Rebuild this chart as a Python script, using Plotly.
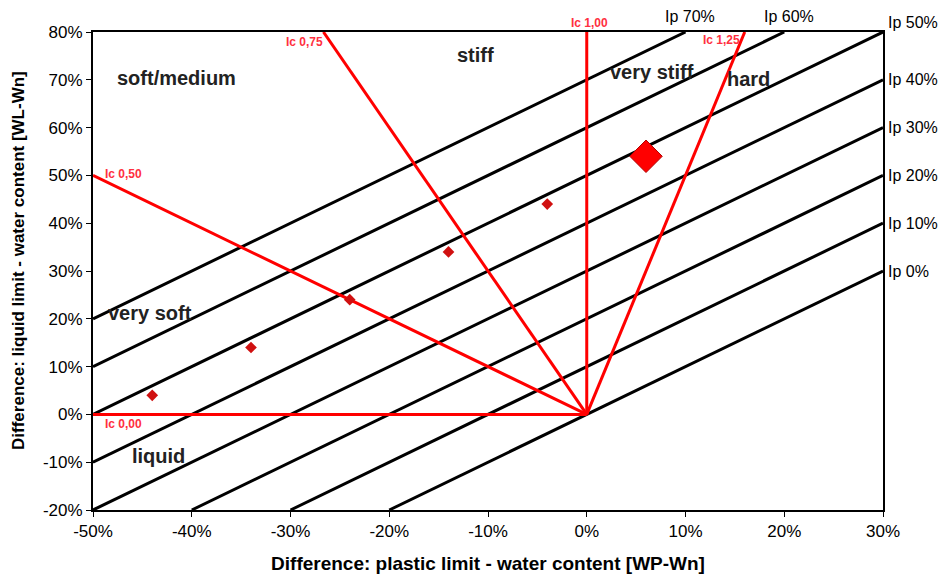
import plotly.graph_objects as go

# ---- data ----
ip_values = [0, 10, 20, 30, 40, 50, 60, 70]          # plasticity index lines (%)
ic_values = [0.0, 0.5, 0.75, 1.0, 1.25]               # consistency index lines
ic_labels = ["Ic 0,00", "Ic 0,50", "Ic 0,75", "Ic 1,00", "Ic 1,25"]
sample_x = [-44, -34, -24, -14, -4]                   # WP-Wn (%)
sample_y = [4, 14, 24, 34, 44]                        # WL-Wn (%)
main_x = [6]
main_y = [54]
region_names = ["soft/medium", "stiff", "very stiff", "hard", "very soft", "liquid"]
region_x = [-41.5, -11.3, 6.6, 16.4, -44.2, -43.4]
region_y = [70.4, 75.2, 71.6, 70.2, 21.2, -8.7]
x_ticks = [-50, -40, -30, -20, -10, 0, 10, 20, 30]
x_tick_text = ["-50%", "-40%", "-30%", "-20%", "-10%", "0%", "10%", "20%", "30%"]
y_ticks = [-20, -10, 0, 10, 20, 30, 40, 50, 60, 70, 80]
y_tick_text = ["-20%", "-10%", "0%", "10%", "20%", "30%", "40%", "50%", "60%", "70%", "80%"]

X_MIN, X_MAX, Y_MIN, Y_MAX = -50, 30, -20, 80


def px(x):
    return (x - X_MIN) / (X_MAX - X_MIN)


def py(y):
    return (y - Y_MIN) / (Y_MAX - Y_MIN)


fig = go.Figure()

# Ip lines: y = x + Ip, clipped to axes box
for ip in ip_values:
    x0 = max(X_MIN, Y_MIN - ip)
    x1 = min(X_MAX, Y_MAX - ip)
    fig.add_trace(go.Scatter(x=[x0, x1], y=[x0 + ip, x1 + ip], mode="lines",
                             line=dict(color="black", width=3), hoverinfo="skip"))

# Ic lines through origin: y = Ic*x/(Ic-1)
for ic in ic_values:
    if abs(ic - 1.0) < 1e-9:
        xe, ye = 0, Y_MAX
    else:
        slope = ic / (ic - 1)
        if ic < 1:
            xe = X_MIN
            ye = slope * xe
            if ye > Y_MAX:
                ye = Y_MAX
                xe = ye / slope
        else:
            ye = Y_MAX
            xe = ye / slope
    fig.add_trace(go.Scatter(x=[0, xe], y=[0, ye], mode="lines",
                             line=dict(color="#ff0000", width=3), hoverinfo="skip"))

# samples
fig.add_trace(go.Scatter(x=sample_x, y=sample_y, mode="markers",
                         marker=dict(symbol="diamond", size=9, color="#d01010")))
fig.add_trace(go.Scatter(x=main_x, y=main_y, mode="markers",
                         marker=dict(symbol="diamond", size=25, color="#ff0000",
                                     line=dict(color="#b00000", width=1))))

ann = []
# region labels
for name, rx, ry in zip(region_names, region_x, region_y):
    ann.append(dict(x=px(rx), y=py(ry), xref="paper", yref="paper", text=name, showarrow=False,
                    xanchor="center", yanchor="middle",
                    font=dict(size=20, color="#222222", family="Liberation Sans", weight="bold")))

# Ic labels
ic_pos = [(-49.0, -2.0, "left"), (-49.0, 50.3, "left"), (-26.5, 77.9, "right"),
          (0.3, 81.9, "center"), (15.7, 78.3, "right")]
for lab, (lx, ly, al) in zip(ic_labels, ic_pos):
    ann.append(dict(x=px(lx), y=py(ly), xref="paper", yref="paper", text=lab, showarrow=False,
                    xanchor=al, yanchor="middle",
                    font=dict(size=12, color="#ff3040", family="Liberation Sans", weight="bold")))

# Ip labels
for ip in ip_values:
    if ip + X_MAX <= Y_MAX:
        lx, ly, xa = 30.3, X_MAX + ip + (2.0 if ip == 50 else 0), "left"
    else:
        lx, ly, xa = Y_MAX - ip + 0.5, 83.3, "center"
    ann.append(dict(x=px(lx), y=py(ly), xref="paper", yref="paper", text=f"Ip {ip}%",
                    showarrow=False, xanchor=xa, yanchor="middle",
                    font=dict(size=16, color="black", family="Liberation Sans")))

# y-axis title as rotated text
ann.append(dict(x=0, xshift=-74, y=0.521, xref="paper", yref="paper",
                text="<b>Difference: liquid limit - water content [WL-Wn]</b>",
                textangle=-90, showarrow=False, xanchor="center", yanchor="middle",
                font=dict(size=17, color="black", family="Liberation Sans")))

fig.update_layout(
    width=938, height=574,
    margin=dict(l=93, r=55, t=32, b=64, autoexpand=False),
    paper_bgcolor="white", plot_bgcolor="white",
    showlegend=False,
    annotations=ann,
    font=dict(family="Liberation Sans", size=16, color="black"),
    xaxis=dict(range=[X_MIN, X_MAX], tickvals=x_ticks, ticktext=x_tick_text,
               showgrid=False, zeroline=False,
               showline=True, linecolor="black", linewidth=2, mirror=True,
               ticks="outside", ticklen=5, tickcolor="black",
               tickfont=dict(size=17),
               title=dict(text="<b>Difference: plastic limit - water content [WP-Wn]</b>",
                          font=dict(size=19), standoff=16)),
    yaxis=dict(range=[Y_MIN, Y_MAX], tickvals=y_ticks, ticktext=y_tick_text,
               showgrid=False, zeroline=False,
               showline=True, linecolor="black", linewidth=2, mirror=True,
               ticks="outside", ticklen=5, tickcolor="black",
               tickfont=dict(size=17)),
)

fig.write_html("out.html", config={"displayModeBar": False},
               post_script="document.body.style.margin='0';document.body.style.padding='0';")
